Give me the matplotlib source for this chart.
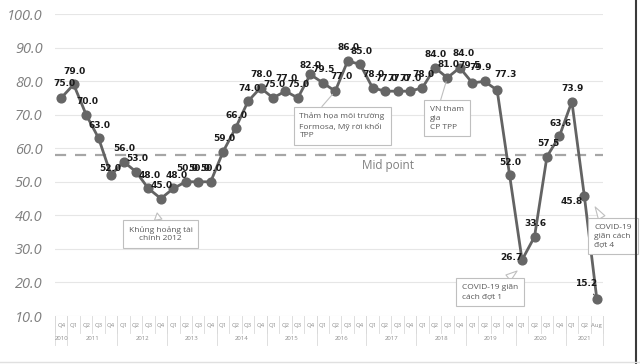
import matplotlib.pyplot as plt
from matplotlib.lines import Line2D
from matplotlib.transforms import blended_transform_factory

# values per period, Q4 2010 .. Q2 2021, then Aug 2021
values = [75.0, 79.0, 70.0, 63.0, 52.0, 56.0, 53.0, 48.0, 45.0, 48.0,
          50.0, 50.0, 50.0, 59.0, 66.0, 74.0, 78.0, 75.0, 77.0, 75.0,
          82.0, 79.5, 77.0, 86.0, 85.0, 78.0, 77.0, 77.0, 77.0, 78.0,
          84.0, 81.0, 84.0, 79.5, 79.9, 77.3, 52.0, 26.7, 33.6, 57.5,
          63.6, 73.9, 45.8, 15.2]
quarters = ['Q4',
            'Q1', 'Q2', 'Q3', 'Q4', 'Q1', 'Q2', 'Q3', 'Q4',
            'Q1', 'Q2', 'Q3', 'Q4', 'Q1', 'Q2', 'Q3', 'Q4',
            'Q1', 'Q2', 'Q3', 'Q4', 'Q1', 'Q2', 'Q3', 'Q4',
            'Q1', 'Q2', 'Q3', 'Q4', 'Q1', 'Q2', 'Q3', 'Q4',
            'Q1', 'Q2', 'Q3', 'Q4', 'Q1', 'Q2', 'Q3', 'Q4',
            'Q1', 'Q2', 'Aug']
years = ['2010', '2011', '2012', '2013', '2014', '2015', '2016',
         '2017', '2018', '2019', '2020', '2021']
year_len = [1, 4, 4, 4, 4, 4, 4, 4, 4, 4, 4, 3]
mid_point = 58

# label offsets in pixels (dx, dy up), default is straight above
label_off = {0: (3, 14), 4: (-1, 7), 9: (3, 13), 20: (0, 9), 22: (6, 15),
             32: (4, 14), 33: (-3, 17), 34: (-4, 14), 35: (8, 16),
             37: (-11, 2), 42: (-13, -6), 43: (-11, 15)}

fig = plt.figure(figsize=(6.4, 3.64), dpi=100)
ax = fig.add_axes([55/640, 1 - 316/364, 548/640, 302/364])

x = list(range(len(values)))
ax.axhline(mid_point, color='#a6a6a6', lw=1.6, dashes=(5, 4), zorder=1)
ax.plot(x, values, color='#636363', lw=2, marker='o', markersize=6.3,
        markerfacecolor='#666666', markeredgecolor='#666666', zorder=3)

ax.set_xlim(-0.5, len(values) - 0.5)
ax.set_ylim(10, 100)
ax.set_yticks(range(10, 101, 10))
ax.set_yticklabels([f'{v:.1f}' for v in range(10, 101, 10)],
                   fontstyle='italic', color='#7f7f7f', family='Open Sans',
                   fontsize=10.5)
ax.tick_params(axis='y', length=0, pad=9)
ax.set_xticks([])
for s in ax.spines.values():
    s.set_visible(False)
ax.grid(axis='y', color='#e6e6e6', lw=0.8)
ax.set_axisbelow(True)

# data labels
for i, v in enumerate(values):
    dx, dy = label_off.get(i, (1, 13))
    if i == 43:
        ax.annotate(f'{v:.1f}', (i, v), xytext=(dx*0.72, dy*0.72),
                    textcoords='offset points', ha='center', va='center',
                    fontsize=6.5, fontweight='bold', color='#1a1a1a', zorder=4,
                    arrowprops=dict(arrowstyle='-', color='#333333', lw=0.8,
                                    shrinkA=3, shrinkB=3))
    else:
        ax.annotate(f'{v:.1f}', (i, v), xytext=(dx*0.72, dy*0.72),
                    textcoords='offset points', ha='center', va='center',
                    fontsize=6.5, fontweight='bold', color='#1a1a1a', zorder=4)

ax.text(26.2, 55.0, 'Mid point', color='#7f7f7f', fontsize=8.5,
        family='Open Sans', ha='center', va='center')

# category axis: quarter row and year row
trans = blended_transform_factory(ax.transData, ax.transAxes)
for i, q in enumerate(quarters):
    ax.text(i, -0.030, q, transform=trans, ha='center', va='center',
            fontsize=4.3, color='#8c8c8c', family='Open Sans')
for i in range(len(quarters) + 1):
    ax.add_line(Line2D([i - 0.5, i - 0.5], [0, -0.056], transform=trans,
                       color='#d9d9d9', lw=0.6, clip_on=False))
start = 0
for y, n in zip(years, year_len):
    ax.text(start + (n - 1) / 2, -0.073, y, transform=trans, ha='center',
            va='center', fontsize=4.3, color='#8c8c8c', family='Open Sans')
    ax.add_line(Line2D([start - 0.5, start - 0.5], [0, -0.097], transform=trans,
                       color='#d9d9d9', lw=0.6, clip_on=False))
    start += n
ax.add_line(Line2D([start - 0.5, start - 0.5], [0, -0.097], transform=trans,
                   color='#d9d9d9', lw=0.6, clip_on=False))

# callouts
box = dict(boxstyle='square,pad=0.7', fc='white', ec='#bfbfbf', lw=0.8)
note_font = dict(fontsize=6, color='#595959', family='Open Sans',
                 ha='center', va='center', multialignment='left',
                 linespacing=1.35)

ax.annotate('Thảm họa môi trường\nFormosa, Mỹ rời khối\nTPP', (22, values[22]),
            xytext=(22.55, 66.6), bbox=box, zorder=5, **note_font,
            arrowprops=dict(arrowstyle='-', color='#bfbfbf', lw=0.8,
                            relpos=(0.2, 1), shrinkA=0, shrinkB=3))
ax.annotate('VN tham\ngia\nCP TPP', (31, values[31]),
            xytext=(31.0, 68.9), bbox=box, zorder=5, **note_font,
            arrowprops=dict(arrowstyle='-', color='#bfbfbf', lw=0.8,
                            relpos=(0.25, 1), shrinkA=0, shrinkB=3))

wedge = dict(arrowstyle='wedge,tail_width=0.9,shrink_factor=0.5', fc='white',
             ec='#bfbfbf', lw=0.8, shrinkA=0, shrinkB=0)
f2 = dict(note_font)
f2['multialignment'] = 'center'
ax.annotate('Khủng hoảng tài\nchính 2012', (7.7, 40.7), xytext=(7.97, 34.4),
            bbox=box, zorder=5, arrowprops=wedge, **f2)
ax.annotate('COVID-19 giãn\ncách đợt 1', (36.6, 23.4), xytext=(34.44, 17.15),
            bbox=box, zorder=5, arrowprops=wedge, **note_font)
ax.annotate('COVID-19\ngiãn cách\nđợt 4', (42.87, 42.5), xytext=(44.3, 33.8),
            bbox=box, zorder=5, arrowprops=wedge, annotation_clip=False,
            **note_font)

# picture frame: right edge and bottom line
fig.add_artist(Line2D([636/640, 636/640], [0, 1], color='#3a3a3a', lw=1.5))
fig.add_artist(Line2D([0, 1], [2/364, 2/364], color='#e0e0e0', lw=1))

plt.savefig('out.png', dpi=100)
